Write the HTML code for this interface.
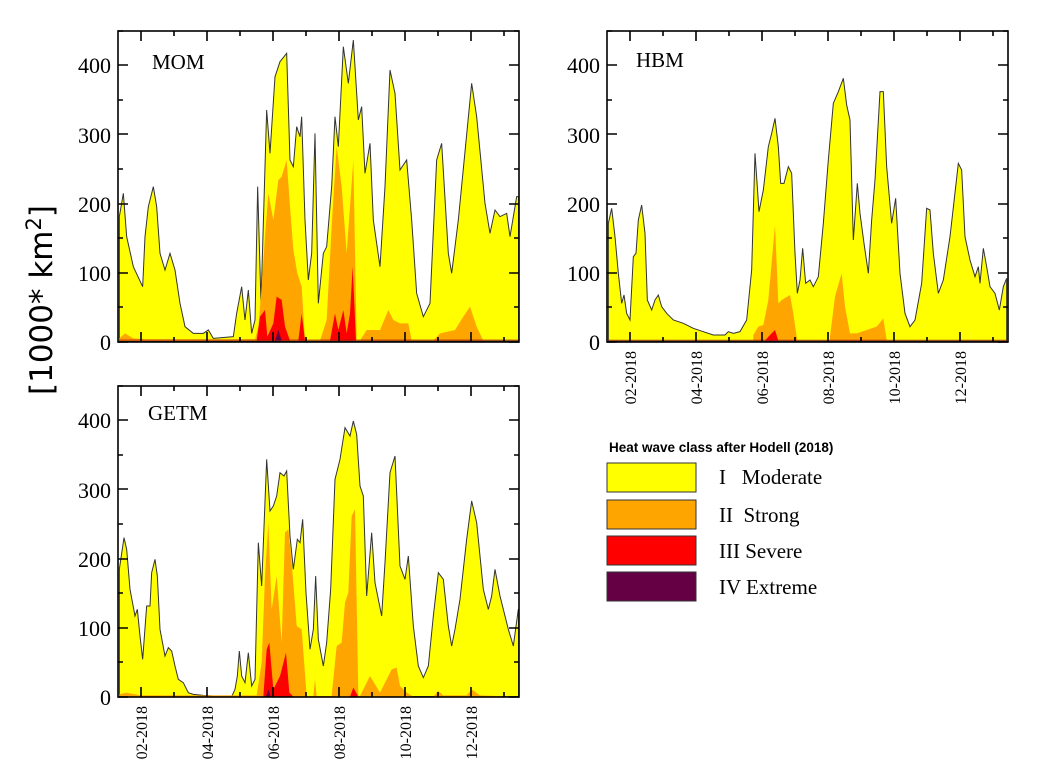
<!DOCTYPE html>
<html><head><meta charset="utf-8"><style>
html,body{margin:0;padding:0;background:#fff;}
svg{display:block;}
.s{font-family:"Liberation Serif",serif;fill:#000;}
</style></head><body>
<svg width="1050" height="782" viewBox="0 0 1050 782" xmlns="http://www.w3.org/2000/svg">
<defs>
<g id="ticks">
<path d="M0,311h10M0,276h5M0,242h10M0,207h5M0,173h10M0,138h5M0,103h10M0,69h5M0,34h10M0,0h5
M401,311h-10M401,276h-5M401,242h-10M401,207h-5M401,173h-10M401,138h-5M401,103h-10M401,69h-5M401,34h-10M401,0h-5
M23,311v-10M56,311v-5M89,311v-10M122,311v-5M155,311v-10M188,311v-5M221,311v-10M254,311v-5M287,311v-10M320,311v-5M353,311v-10M386,311v-5
M23,0v10M56,0v5M89,0v10M122,0v5M155,0v10M188,0v5M221,0v10M254,0v5M287,0v10M320,0v5M353,0v10M386,0v5" stroke="#000" stroke-width="1.6" fill="none"/>
<rect x="0" y="0" width="401" height="311" fill="none" stroke="#000" stroke-width="1.6"/>
</g>
</defs>

<!-- MOM -->
<g transform="translate(60,20) scale(0.33333)">
<path d="M178,963L178,590L190,520L200,650L220,740L248,800L255,650L265,560L280,500L290,560L300,700L315,750L330,700L345,750L360,850L375,920L400,940L430,940L445,930L460,955L520,950L530,880L545,800L555,900L565,810L575,940L585,900L593,500L603,850L620,270L630,400L645,170L660,125L680,100L690,420L700,440L710,320L720,350L725,290L735,600L745,780L755,700L765,340L775,850L790,700L800,680L815,500L825,290L835,380L850,80L865,190L880,60L895,300L905,260L915,460L930,370L940,600L960,740L975,500L990,150L1005,220L1020,450L1040,420L1055,600L1070,820L1090,890L1110,850L1130,420L1145,370L1165,700L1175,760L1195,600L1235,190L1250,290L1275,550L1290,640L1305,570L1320,590L1340,580L1350,650L1370,530L1376,530L1376,963Z" fill="#ffff00" stroke="#333" stroke-width="1" vector-effect="non-scaling-stroke"/>
<path d="M178,963L178,955L195,940L220,955L260,958L585,958L595,920L605,800L615,650L625,520L640,600L655,480L665,470L680,420L690,560L700,690L712,760L725,800L735,962L780,962L800,900L815,620L830,380L845,500L860,700L870,560L880,420L890,962L900,962L920,930L960,930L985,870L1000,900L1020,910L1045,910L1055,962L1120,962L1140,940L1185,930L1210,890L1230,860L1250,920L1270,962Z" fill="#ffa500"/>
<path d="M590,962L600,890L615,870L622,950L640,910L650,830L665,840L675,920L690,962L715,962L725,880L735,962L810,962L825,880L835,930L850,870L860,940L870,880L878,740L888,962Z" fill="#ff0000"/>
<path d="M178,963L178,958L1376,958L1376,963Z" fill="#a01010" opacity="0.5"/>
<path d="M645,962L655,930L665,962Z" fill="#660044"/>
</g>
<g transform="translate(118,31)"><use href="#ticks"/></g>
<text class="s" x="152" y="69" font-size="21">MOM</text>
<g class="s" font-size="22" text-anchor="end">
<text x="111" y="350">0</text><text x="111" y="281">100</text><text x="111" y="212">200</text><text x="111" y="143">300</text><text x="111" y="73">400</text>
</g>

<!-- HBM -->
<g transform="translate(560,20) scale(0.33333)">
<path d="M145,963L145,610L155,565L165,650L175,760L185,850L192,825L200,880L210,900L220,710L228,700L235,600L245,555L255,640L262,840L275,870L285,840L295,825L305,860L320,880L340,900L370,910L400,925L430,935L460,945L495,945L505,935L520,940L540,935L560,900L575,750L585,400L597,575L610,510L625,380L635,340L645,295L655,380L662,490L672,490L685,440L695,460L705,700L712,820L720,780L728,685L737,790L750,780L760,800L775,770L790,610L805,420L820,250L835,215L850,175L860,255L870,300L880,660L892,490L900,580L912,670L925,760L935,600L945,480L960,215L970,215L980,440L995,610L1007,535L1020,760L1035,880L1050,920L1065,900L1085,790L1100,565L1110,570L1120,700L1135,820L1150,780L1170,650L1195,430L1205,450L1215,650L1230,720L1245,770L1255,740L1260,790L1270,685L1280,740L1290,800L1305,820L1318,870L1330,800L1340,775L1340,963Z" fill="#ffff00" stroke="#333" stroke-width="1" vector-effect="non-scaling-stroke"/>
<path d="M580,962L580,945L595,920L610,915L625,840L645,615L655,850L665,840L690,825L700,880L710,950L712,962L810,962L810,950L825,830L845,760L855,860L870,940L890,940L950,920L970,895L980,960L980,962Z" fill="#ffa500"/>
<path d="M615,962L630,945L645,930L655,962Z" fill="#ff0000"/>
<path d="M145,963L145,959L1340,959L1340,963Z" fill="#a01010" opacity="0.5"/>
</g>
<g transform="translate(607,31)"><use href="#ticks"/></g>
<text class="s" x="636" y="67" font-size="21">HBM</text>
<g class="s" font-size="22" text-anchor="end">
<text x="600" y="350">0</text><text x="600" y="281">100</text><text x="600" y="212">200</text><text x="600" y="143">300</text><text x="600" y="73">400</text>
</g>
<g class="s" font-size="16" text-anchor="end">
<text transform="translate(636,351) rotate(-90)">02-2018</text>
<text transform="translate(702,351) rotate(-90)">04-2018</text>
<text transform="translate(768,351) rotate(-90)">06-2018</text>
<text transform="translate(834,351) rotate(-90)">08-2018</text>
<text transform="translate(900,351) rotate(-90)">10-2018</text>
<text transform="translate(966,351) rotate(-90)">12-2018</text>
</g>

<!-- GETM -->
<g transform="translate(60,376) scale(0.33333)">
<path d="M178,962L178,580L192,485L200,520L210,640L225,720L232,700L240,780L248,850L260,690L270,690L275,590L285,550L292,600L300,760L315,840L325,815L335,825L345,870L355,910L370,920L385,950L400,955L430,958L460,960L515,962L525,940L532,900L538,825L545,900L555,920L565,830L575,930L585,910L595,500L605,630L620,250L630,405L640,390L650,360L660,290L672,300L680,285L690,480L700,580L712,490L720,500L728,430L738,650L750,820L760,760L767,600L775,790L790,870L800,800L812,640L825,310L840,250L855,155L870,180L880,135L890,175L900,330L910,360L920,660L935,470L945,620L965,720L975,560L990,290L1005,240L1020,570L1035,610L1045,540L1060,750L1075,870L1090,905L1105,870L1120,720L1135,590L1150,610L1165,750L1175,810L1185,760L1200,670L1220,490L1235,375L1250,440L1270,640L1285,700L1295,660L1305,580L1320,660L1335,720L1345,760L1360,810L1375,700L1376,700L1376,962Z" fill="#ffff00" stroke="#333" stroke-width="1" vector-effect="non-scaling-stroke"/>
<path d="M178,962L178,955L200,950L240,958L590,958L605,860L615,600L625,440L635,700L650,600L665,800L675,470L685,460L695,560L710,750L725,760L740,960L760,960L765,910L770,960L815,960L830,810L845,800L855,680L865,650L875,420L885,400L895,960L900,960L930,900L960,950L995,880L1010,875L1020,930L1040,950L1060,962L1120,962L1135,945L1150,958L1220,958L1235,940L1260,958L1376,962Z" fill="#ffa500"/>
<path d="M610,962L620,820L628,800L640,940L660,900L678,830L688,950L700,962L870,962L880,935L895,962Z" fill="#ff0000"/>
<path d="M618,962L625,940L632,962Z" fill="#660044"/>
</g>
<g transform="translate(118,386)"><use href="#ticks"/></g>
<text class="s" x="148" y="420" font-size="21">GETM</text>
<g class="s" font-size="22" text-anchor="end">
<text x="111" y="705">0</text><text x="111" y="636">100</text><text x="111" y="567">200</text><text x="111" y="498">300</text><text x="111" y="428">400</text>
</g>
<g class="s" font-size="16" text-anchor="end">
<text transform="translate(147,706) rotate(-90)">02-2018</text>
<text transform="translate(213,706) rotate(-90)">04-2018</text>
<text transform="translate(279,706) rotate(-90)">06-2018</text>
<text transform="translate(345,706) rotate(-90)">08-2018</text>
<text transform="translate(411,706) rotate(-90)">10-2018</text>
<text transform="translate(477,706) rotate(-90)">12-2018</text>
</g>

<!-- Y label -->
<text transform="translate(52,300) rotate(-90)" text-anchor="middle" font-family="'DejaVu Sans',sans-serif" font-size="31" fill="#000">[1000* km<tspan dy="-11" font-size="21">2</tspan><tspan dy="11">]</tspan></text>

<!-- Legend -->
<text x="609" y="452" font-family="'Liberation Sans',sans-serif" font-weight="bold" font-size="13.5" fill="#000">Heat wave class after Hodell (2018)</text>
<rect x="607" y="463" width="89" height="29" fill="#ffff00" stroke="#333" stroke-width="1"/>
<rect x="607" y="500" width="89" height="29" fill="#ffa500" stroke="#333" stroke-width="1"/>
<rect x="607" y="536" width="89" height="29" fill="#ff0000" stroke="#333" stroke-width="1"/>
<rect x="607" y="572" width="89" height="29" fill="#660044" stroke="#333" stroke-width="1"/>
<g class="s" font-size="21">
<text x="719" y="484">I&#160;&#160;&#160;Moderate</text>
<text x="719" y="522">II&#160;&#160;Strong</text>
<text x="719" y="558">III Severe</text>
<text x="719" y="594">IV Extreme</text>
</g>
</svg>
</body></html>
